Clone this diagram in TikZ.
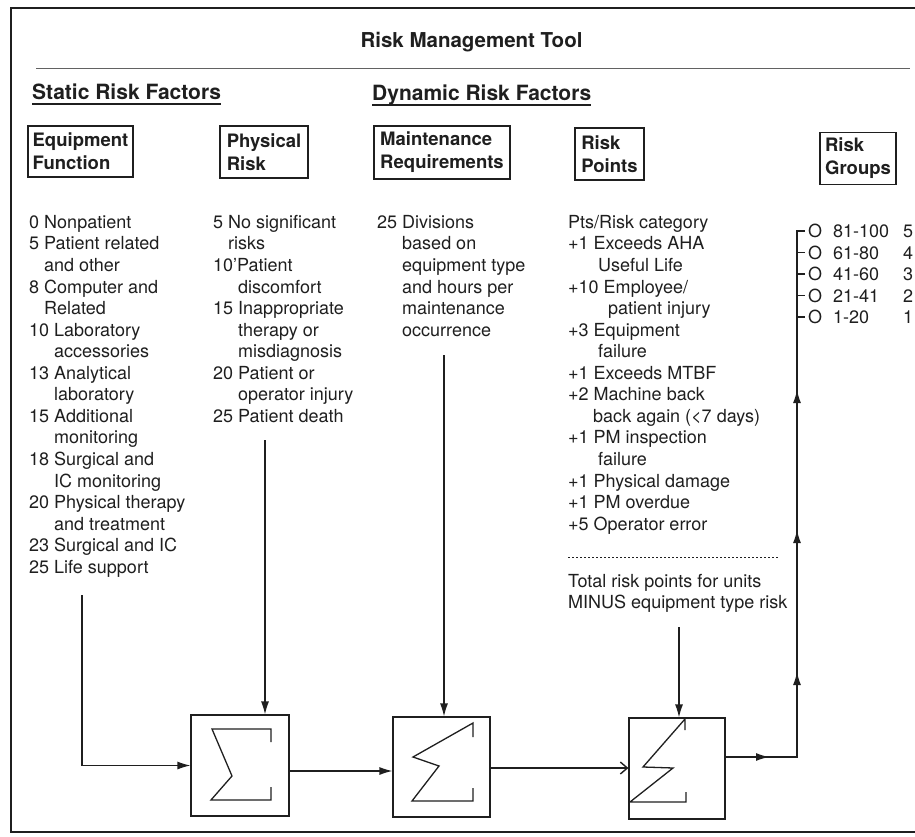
\documentclass[tikz,border=0pt]{standalone}
\usepackage{fontspec}
\setmainfont{TeX Gyre Heros}
\usetikzlibrary{arrows.meta}
\definecolor{ink}{gray}{0.12}
\newcommand\rmtbody{\fontsize{18}{21.56}\selectfont}
\newcommand\rmthead{\bfseries\fontsize{18.5}{23}\selectfont}
\begin{document}
\begin{tikzpicture}[x=1pt,y=-1pt,line join=miter,
  every node/.style={text=ink},
  hdrbox/.style={draw=ink, line width=1.2pt, font=\rmthead, align=left, inner sep=0pt},
  listtxt/.style={font=\rmtbody, align=left, anchor=north west, inner sep=0pt},
  sumbox/.style={draw=ink, line width=1.2pt, inner sep=0pt},
  conn/.style={draw=ink, line width=1.2pt},
  tip/.style={-{Latex[length=13pt,width=8pt]}},
  glyph/.style={draw=ink, line width=1.3pt},
  frame/.style={draw=ink, line width=1.6pt},
  heading/.style={font=\bfseries\fontsize{21}{25}\selectfont, inner sep=0pt, anchor=base west}]

\useasboundingbox (0,0) rectangle (915,837);
\fill[white] (0,0) rectangle (915,837);

% outer frame (open on the right)
\draw[frame] (915,8) -- (11,8) -- (11,832) -- (915,832);

% title and rule
\node[font=\bfseries\fontsize{20.5}{24}\selectfont, inner sep=0pt] (title) at (471.5,42) {Risk Management Tool};
\draw[line width=0.9pt, ink!70] (36,68) -- (910,68);

% section headings
\node[heading] (static) at (32,99.5) {Static Risk Factors};
\draw[conn, line width=1.8pt] ([yshift=-4.5pt]static.base west) -- ([yshift=-4.5pt]static.base east);
\node[heading] (dynamic) at (372,100.5) {Dynamic Risk Factors};
\draw[conn, line width=1.8pt] ([yshift=-4.5pt]dynamic.base west) -- ([yshift=-4.5pt]dynamic.base east);

% column headers
\node[hdrbox, minimum width=105pt, minimum height=51pt] (ef) at (80.5,151.5) {Equipment\\Function};
\node[hdrbox, minimum width=88pt, minimum height=52pt] (pr) at (264,152) {Physical\\Risk};
\node[hdrbox, minimum width=136pt, minimum height=53pt] (mr) at (442,152.5) {Maintenance\\Requirements};
\node[hdrbox, minimum width=69pt, minimum height=52pt] (rp) at (609.5,154) {Risk\\Points};
\node[hdrbox, minimum width=76pt, minimum height=52pt] (rg) at (858,158.5) {Risk\\Groups};

% equipment function scores
\node[listtxt] (eflist) at (29,215) {0 Nonpatient\\
5 Patient related\\
\phantom{5 }and other\\
8 Computer and\\
\phantom{8 }Related\\
10 Laboratory\\
\phantom{10 }accessories\\
13 Analytical\\
\phantom{13 }laboratory\\
15 Additional\\
\phantom{15 }monitoring\\
18 Surgical and\\
\phantom{18 }IC monitoring\\
20 Physical therapy\\
\phantom{20 }and treatment\\
23 Surgical and IC\\
25 Life support};

% physical risk scores
\node[listtxt] (prlist) at (213,215) {5 No significant\\
\phantom{5 }risks\\
10'Patient\\
\phantom{10 }discomfort\\
15 Inappropriate\\
\phantom{15 }therapy or\\
\phantom{15 }misdiagnosis\\
20 Patient or\\
\phantom{20 }operator injury\\
25 Patient death};

% maintenance requirements
\node[listtxt] (mrlist) at (377,215) {25 Divisions\\
\phantom{25 }based on\\
\phantom{25 }equipment type\\
\phantom{25 }and hours per\\
\phantom{25 }maintenance\\
\phantom{25 }occurrence};

% risk points
\node[listtxt] (rplist) at (568,215) {Pts/Risk category\\
+1 Exceeds AHA\\
\hspace*{30pt}Useful Life\\
+10 Employee/\\
\hspace*{40pt}patient injury\\
+3 Equipment\\
\hspace*{30pt}failure\\
+1 Exceeds MTBF\\
+2 Machine back\\
\hspace*{25pt}back again (<7 days)\\
+1 PM inspection\\
\hspace*{30pt}failure\\
+1 Physical damage\\
+1 PM overdue\\
+5 Operator error};
\draw[ink, line width=1pt, dash pattern=on 1.5pt off 2.5pt] (568,557) -- (778,557);
\node[listtxt] (rptotal) at (568,574) {Total risk points for units\\MINUS equipment type risk};

% risk groups
\node[listtxt] (rglist) at (808,224) {O\hspace{11pt}\makebox[70pt][l]{81-100}5\\
O\hspace{11pt}\makebox[70pt][l]{61-80}4\\
O\hspace{11pt}\makebox[70pt][l]{41-60}3\\
O\hspace{11pt}\makebox[70pt][l]{21-41}2\\
O\hspace{11pt}\makebox[70pt][l]{1-20}1};

% summing blocks
\node[sumbox, minimum width=98pt, minimum height=101pt] (s1) at (240,765.5) {};
\node[sumbox, minimum width=97pt, minimum height=100pt] (s2) at (441.5,767) {};
\node[sumbox, minimum width=96pt, minimum height=101pt] (s3) at (677,768.5) {};

\draw[glyph] (271,742) -- (271,729) -- (212,729) -- (232,776) -- (211,800) -- (271,800) -- (271,787);
\draw[glyph] (473,737) -- (473,723) -- (413,757) -- (439,766) -- (412,801) -- (473,801) -- (473,788);
\draw[glyph] (685,730) -- (685,719) -- (643,767) -- (673,768) -- (630,802) -- (686,802) -- (686,792);

% connectors
\coordinate (efout) at (82,595);
\draw[conn, tip] (efout) |- (s1.west);
\coordinate (prout) at (265,440);
\draw[conn, tip] (prout) -- (prout |- s1.north);
\draw[conn, tip] ([yshift=-5.5pt]s1.east) -- ([yshift=-4pt]s2.west);
\coordinate (mrout) at (444,355);
\draw[conn, tip] (mrout) -- (mrout |- s2.north);
\draw[conn, -{Straight Barb[length=7pt,width=12pt,line width=1.4pt]}] ([yshift=-1pt]s2.east) -- ([yshift=0.5pt]s3.west);
\coordinate (rpout) at (679,627);
\draw[conn, tip] (rpout) -- (rpout |- s3.north);

% output bus to the risk groups
\coordinate (gout) at (797,757);
\coordinate (gtop) at (797,231);
\coordinate (g1) at (797,672);
\coordinate (g2) at (797,530);
\coordinate (g3) at (797,390);
\draw[conn] ([yshift=11.5pt]s3.east) -- (gout) -- (gtop) -- (805,231);
\draw[conn, tip] ([yshift=11.5pt]s3.east) -- (769,757);
\draw[conn, tip] (gout) -- (g1);
\draw[conn, tip] (g1) -- (g2);
\draw[conn, tip] (g2) -- (g3);
\foreach \k in {1,...,4} \draw[conn] (797,231+21.5*\k) -- (805,231+21.5*\k);
\end{tikzpicture}
\end{document}
